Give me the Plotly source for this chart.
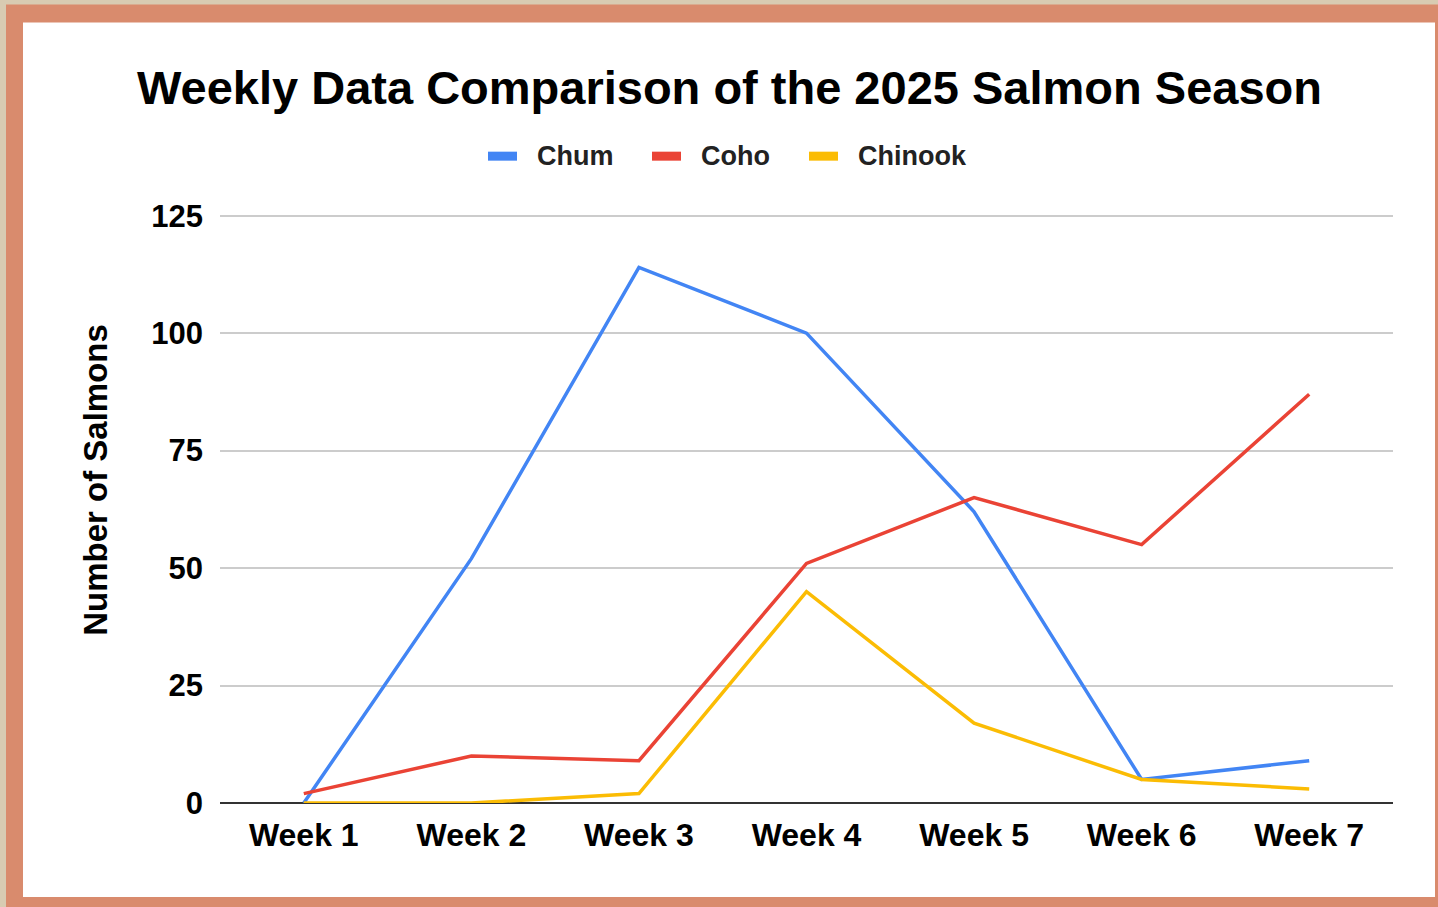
import plotly.graph_objects as go

weeks = ["Week 1", "Week 2", "Week 3", "Week 4", "Week 5", "Week 6", "Week 7"]
chum = [0, 52, 114, 100, 62, 5, 9]
coho = [2, 10, 9, 51, 65, 55, 87]
chinook = [0, 0, 2, 45, 17, 5, 3]
series_names = ["Chum", "Coho", "Chinook"]
series_colors = ["#4285F4", "#EA4335", "#FBBC04"]
y_ticks = [0, 25, 50, 75, 100, 125]

W, H = 1438, 907
Y_MAX = 126
PX_PER_UNIT = (803 - 216) / 125
L, R, B = 220, 1393, 803
T = B - PX_PER_UNIT * Y_MAX  # plot area top pixel


def px(x):
    return (x - L) / (R - L)


def py(y):
    return (B - y) / (B - T)


FONT = "Liberation Sans, Arial, sans-serif"

fig = go.Figure()
for name, vals, col in zip(series_names, [chum, coho, chinook], series_colors):
    fig.add_trace(go.Scatter(x=weeks, y=vals, name=name, mode="lines",
                             line=dict(color=col, width=3.5), showlegend=False))

shapes = [
    dict(type="rect", xref="paper", yref="paper", x0=px(6), x1=px(W + 5), y0=py(5), y1=py(H + 5),
         fillcolor="#D98B6D", line=dict(width=0), layer="below"),
    dict(type="rect", xref="paper", yref="paper", x0=px(23), x1=px(1435), y0=py(23), y1=py(897),
         fillcolor="#FFFFFF", line=dict(width=0), layer="below"),
]

annotations = [dict(text="Number of Salmons", textangle=-90, xref="paper", yref="paper",
                    x=px(96), y=py(480), xanchor="center", yanchor="middle", showarrow=False,
                    font=dict(family=FONT, size=33, color="#000000", weight="bold"))]

# manual legend (layout only)
legend_symbol_x = [488, 652, 809]
LEG_Y = 156.5
for name, col, sx in zip(series_names, series_colors, legend_symbol_x):
    shapes.append(dict(type="line", xref="paper", yref="paper", x0=px(sx), x1=px(sx + 29),
                       y0=py(LEG_Y), y1=py(LEG_Y), line=dict(color=col, width=9)))
    annotations.append(dict(text=name, xref="paper", yref="paper", x=px(sx + 47), y=py(LEG_Y),
                            xanchor="left", yanchor="middle", showarrow=False,
                            font=dict(family=FONT, size=27, color="#222222", weight="bold")))

fig.update_layout(
    width=W, height=H,
    margin=dict(l=L, r=W - R, t=T, b=H - B),
    paper_bgcolor="#D8CBB2",
    plot_bgcolor="#FFFFFF",
    shapes=shapes,
    showlegend=False,
    title=dict(text="Weekly Data Comparison of the 2025 Salmon Season",
               x=729.5 / W, xanchor="center", y=1 - 88 / H, yanchor="middle",
               font=dict(family=FONT, size=47, color="#000000", weight="bold")),
    xaxis=dict(range=[-0.5, 6.5], showgrid=False, zeroline=False, showline=False,
               tickfont=dict(family=FONT, size=32, color="#000000", weight="bold"),
               ticks="", ticklabelstandoff=10),
    yaxis=dict(range=[0, Y_MAX], tickvals=y_ticks, showgrid=True, gridcolor="#CCCCCC", gridwidth=1.5,
               zeroline=True, zerolinecolor="#333333", zerolinewidth=2, showline=False,
               tickfont=dict(family=FONT, size=31, color="#000000", weight="bold"),
               ticks="", ticklabelstandoff=16),
    annotations=annotations,
)

fig.write_html("out.html", config={"displayModeBar": False},
               post_script="document.body.style.margin='0';document.body.style.overflow='hidden';")
